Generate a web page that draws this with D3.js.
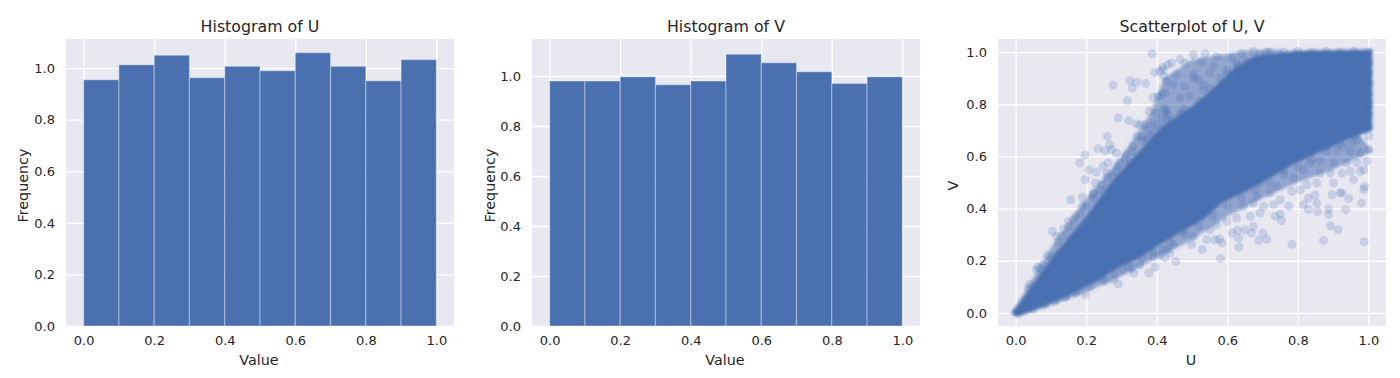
<!DOCTYPE html>
<html>
<head>
<meta charset="utf-8">
<script src="https://cdnjs.cloudflare.com/ajax/libs/d3/7.8.5/d3.min.js"></script>
<style>
  html, body { margin: 0; padding: 0; background: #fff; }
  svg { display: block; }
  text { font-family: "DejaVu Sans", sans-serif; fill: #262626; }
</style>
</head>
<body>
<div id="chart"></div>
<script>
const binEdges = [0, 0.1, 0.2, 0.3, 0.4, 0.5, 0.6, 0.7, 0.8, 0.9, 1.0];
const freqU = [0.955, 1.013, 1.05, 0.963, 1.007, 0.99, 1.06, 1.007, 0.951, 1.033];
const freqV = [0.98, 0.98, 0.997, 0.965, 0.98, 1.087, 1.053, 1.017, 0.97, 0.997];
const tickValues = [0, 0.2, 0.4, 0.6, 0.8, 1.0];

// Solid core of the scatter: too many overlapping dots to read one by one,
// so the outlines are read off the picture and filled. Dots below are the readable ones.
const coreOutline = [[-0.012, 0.0], [0.01, 0.035], [0.07, 0.15], [0.12, 0.24], [0.2, 0.37], [0.27, 0.5],
  [0.35, 0.62], [0.42, 0.72], [0.5, 0.79], [0.56, 0.86], [0.62, 0.94], [0.68, 0.985], [0.79, 1.005],
  [0.9, 1.008], [1.011, 1.01], [1.011, 0.7], [0.94, 0.665], [0.844, 0.605], [0.787, 0.57], [0.722, 0.518],
  [0.645, 0.46], [0.588, 0.425], [0.531, 0.357], [0.466, 0.308], [0.409, 0.262], [0.352, 0.212], [0.295, 0.175],
  [0.23, 0.122], [0.162, 0.075], [0.097, 0.038], [0.04, 0.005], [0.003, -0.014]];
const haloOutline = [[-0.012, 0.0], [0.03, 0.09], [0.1, 0.25], [0.2, 0.44], [0.3, 0.6], [0.38, 0.76], [0.42, 0.9],
  [0.5, 0.97], [0.65, 1.005], [0.75, 1.01], [0.85, 0.9], [1.012, 0.62], [0.9, 0.55], [0.8, 0.5], [0.7, 0.44],
  [0.6, 0.37], [0.5, 0.28], [0.4, 0.21], [0.3, 0.14], [0.2, 0.08], [0.1, 0.03], [0.003, -0.014]];

const scatterPoints = [
  [.387,.993],[.276,.873],[.324,.891],[.343,.884],[.369,.879],[.331,.862],[.317,.813],[.390,.826],[.404,.830],[.414,.836],
  [.395,.922],[.409,.926],[.420,.907],[.417,.942],[.431,.951],[.291,.747],[.321,.737],[.343,.725],[.352,.719],[.379,.773],
  [.366,.721],[.400,.766],[.423,.785],[.428,.773],[.260,.677],[.267,.645],[.234,.629],[.253,.623],[.272,.626],[.286,.613],
  [.343,.677],[.357,.674],[.333,.638],[.197,.605],[.182,.575],[.208,.549],[.229,.540],[.248,.562],[.197,.511],[.226,.498],
  [.246,.492],[.156,.434],[.189,.444],[.222,.460],[.258,.536],[.277,.523],[.314,.607],[.324,.575],[.371,.664],[.390,.690],
  [.409,.702],[.376,.702],[.390,.728],[.414,.741],[.433,.760],[.295,.575],[.262,.575],[.286,.543],
  [.104,.313],[.136,.322],[.149,.351],[.163,.357],[.130,.294],[.158,.281],[.116,.294],[.182,.383],[.201,.409],[.220,.453],
  [.063,.176],[.078,.185],[.059,.166],[.101,.208],[.116,.217],[.035,.096],
  [.197,.070],[.291,.111],[.144,.064],[.116,.051],[.087,.038],[.229,.128],[.253,.121],[.277,.128],[.303,.166],[.329,.172],
  [.335,.153],[.378,.153],[.395,.176],[.352,.185],[.390,.217],[.409,.223],[.428,.243],[.172,.083],
  [.454,.198],[.581,.208],[.423,.211],[.437,.230],[.529,.243],[.499,.262],[.633,.253],[.689,.278],[.712,.283],[.783,.263],
  [.873,.278],[.988,.273],[.914,.319],[.892,.334],[.585,.268],[.565,.281],[.578,.283],[.542,.281],[.632,.287],[.613,.306],
  [.629,.317],[.650,.317],[.669,.306],[.674,.332],[.701,.306],[.754,.354],[.736,.370],[.750,.380],[.830,.396],[.856,.389],
  [.887,.377],[.887,.398],[.936,.396],[.981,.421],[.944,.438],[.774,.409],[.816,.415],[.854,.421],[.830,.440],[.849,.453],
  [.897,.453],[.920,.460],[.987,.472],[.783,.466],[.807,.472],[.693,.383],[.665,.370],[.703,.409],[.731,.415],[.750,.434],
  [.627,.364],[.598,.351],[.570,.338],[.551,.319],[.504,.294],[.475,.313],[.447,.262],[.418,.243],[.674,.421],[.684,.447],[.646,.409],
  [.989,.485],[.977,.543],[.949,.543],[.925,.536],[.901,.498],[.925,.460],[.854,.498],[.826,.492],[.740,.485],[.722,.460],
  [.968,.575],[.996,.581],[1.001,.626],[1.001,.677],[.977,.613],[.949,.619],[.901,.575],[.882,.638],[.864,.581],[.816,.549],
  [.788,.517],[.911,.626],[.954,.651],[.930,.638],[.835,.645],[.807,.600],[.759,.549],[.987,.702],[.968,.664],[.864,.536],
  [.892,.536],[.987,.549],[.958,.511],[.939,.575],[.835,.575],[.693,.498],
  [.504,.990],[.537,.993],[.570,.983],[.466,.971],[.442,.958],[.418,.932],[.480,.958],[.527,.964],[.613,.977],[.641,.993],
  [.674,1.002],[.693,.990],[.712,.999],[.655,.964],[.627,.958],[.561,.945],[.551,.919],[.598,.932],[.636,.926],[.456,.913],
  [.428,.887],[.504,.913],[.480,.868],[.447,.875],[.504,.900],[.532,.875],[.598,.868],[.655,.881],[.674,.868],[.423,.843],
  [.466,.824],[.532,.855],[.518,.894],[.494,.830],[.423,.773],[.480,.779],[.532,.804],[.551,.779],[.570,.792],[.428,.741],
  [.466,.760],[.513,.753],[.418,.677],[.456,.715],[.523,.715],[.409,.638],[.437,.677],[.475,.677],
  // along the core edges
  [.04,.11],[.07,.17],[.09,.22],[.12,.27],[.15,.33],[.17,.37],[.19,.41],[.22,.44],[.24,.47],[.26,.52],[.29,.56],[.31,.59],
  [.33,.62],[.36,.66],[.38,.68],[.40,.72],[.44,.74],[.47,.77],[.52,.81],[.55,.86],[.58,.90],[.60,.92],[.63,.95],
  [.72,1.0],[.76,1.0],[.80,1.003],[.84,1.0],[.88,1.003],[.92,1.0],[.96,1.003],[1.0,1.0],[1.002,.96],[1.0,.92],[1.003,.88],[1.0,.84],[1.002,.80],[1.0,.76],
  [.05,.015],[.08,.03],[.11,.045],[.14,.06],[.17,.075],[.21,.10],[.25,.13],[.28,.15],[.32,.18],[.36,.21],[.39,.235],[.44,.27],
  [.48,.30],[.52,.33],[.56,.37],[.60,.41],[.64,.44],[.68,.47],[.72,.50],[.76,.53],[.80,.56],[.84,.59],[.88,.62],[.92,.65],[.96,.68],[1.0,.71]
];

const width = 1400, height = 378;
const panelTop = 39, panelBottom = 326;
const barColor = '#4a70b0';

const svg = d3.select('#chart').append('svg')
  .attr('width', width)
  .attr('height', height);

const blur = svg.append('defs').append('filter').attr('id', 'soft')
  .attr('x', '-5%').attr('y', '-5%').attr('width', '110%').attr('height', '110%');
blur.append('feGaussianBlur').attr('stdDeviation', 1.6);

function drawPanel(left, right, yDomain, title, xLabel, yLabel, yLabelX) {
  const x = d3.scaleLinear().domain([-0.05, 1.05]).range([left, right]);
  const y = d3.scaleLinear().domain(yDomain).range([panelBottom, panelTop]);

  svg.append('rect')
    .attr('x', left).attr('y', panelTop)
    .attr('width', right - left).attr('height', panelBottom - panelTop)
    .attr('fill', '#e8e8f1');

  const xAxis = svg.append('g')
    .attr('transform', `translate(0,${panelBottom})`)
    .call(d3.axisBottom(x).tickValues(tickValues).tickFormat(d3.format('.1f'))
      .tickSize(-(panelBottom - panelTop)).tickPadding(10));
  const yAxis = svg.append('g')
    .attr('transform', `translate(${left},0)`)
    .call(d3.axisLeft(y).tickValues(tickValues).tickFormat(d3.format('.1f'))
      .tickSize(-(right - left)).tickPadding(11));

  [xAxis, yAxis].forEach(a => {
    a.select('.domain').remove();
    a.selectAll('.tick line').attr('stroke', '#fff').attr('stroke-width', 1.3);
    a.selectAll('.tick text').attr('font-size', 13).attr('font-family', '"DejaVu Sans", sans-serif').attr('fill', '#3a3a3a');
  });

  svg.append('text')
    .attr('x', (left + right) / 2).attr('y', 32)
    .attr('text-anchor', 'middle').attr('font-size', 15.8)
    .text(title);
  svg.append('text')
    .attr('x', (left + right) / 2 - 1).attr('y', 365)
    .attr('text-anchor', 'middle').attr('font-size', 14.3)
    .text(xLabel);
  svg.append('text')
    .attr('transform', `translate(${yLabelX},${(panelTop + panelBottom) / 2 + 3}) rotate(-90)`)
    .attr('text-anchor', 'middle').attr('font-size', 14.3)
    .text(yLabel);

  return { x, y };
}

function drawHistogram(left, right, yMax, values, title, yLabelX) {
  const { x, y } = drawPanel(left, right, [0, yMax], title, 'Value', 'Frequency', yLabelX);
  svg.append('g').selectAll('rect')
    .data(values)
    .enter().append('rect')
    .attr('x', (d, i) => x(binEdges[i]))
    .attr('y', d => y(d))
    .attr('width', (d, i) => x(binEdges[i + 1]) - x(binEdges[i]))
    .attr('height', d => y(0) - y(d))
    .attr('fill', barColor)
    .attr('stroke', '#fff')
    .attr('stroke-opacity', 0.3)
    .attr('stroke-width', 1.3);
}

drawHistogram(66, 454, 1.113, freqU, 'Histogram of U', 28);
drawHistogram(532, 920, 1.148, freqV, 'Histogram of V', 495);

const { x: sx, y: sy } = drawPanel(998, 1386, [-0.05, 1.05], 'Scatterplot of U, V', 'U', 'V', 958);

const outlineLine = d3.line().x(d => sx(d[0])).y(d => sy(d[1]));
svg.append('path')
  .attr('d', outlineLine(haloOutline) + 'Z')
  .attr('fill', barColor)
  .attr('fill-opacity', 0.55)
  .attr('filter', 'url(#soft)');
svg.append('path')
  .attr('d', outlineLine(coreOutline) + 'Z')
  .attr('fill', barColor)
  .attr('filter', 'url(#soft)');

svg.append('g').selectAll('circle')
  .data(scatterPoints)
  .enter().append('circle')
  .attr('cx', d => sx(d[0]))
  .attr('cy', d => sy(d[1]))
  .attr('r', 4.5)
  .attr('fill', barColor)
  .attr('fill-opacity', 0.22);
</script>
</body>
</html>
